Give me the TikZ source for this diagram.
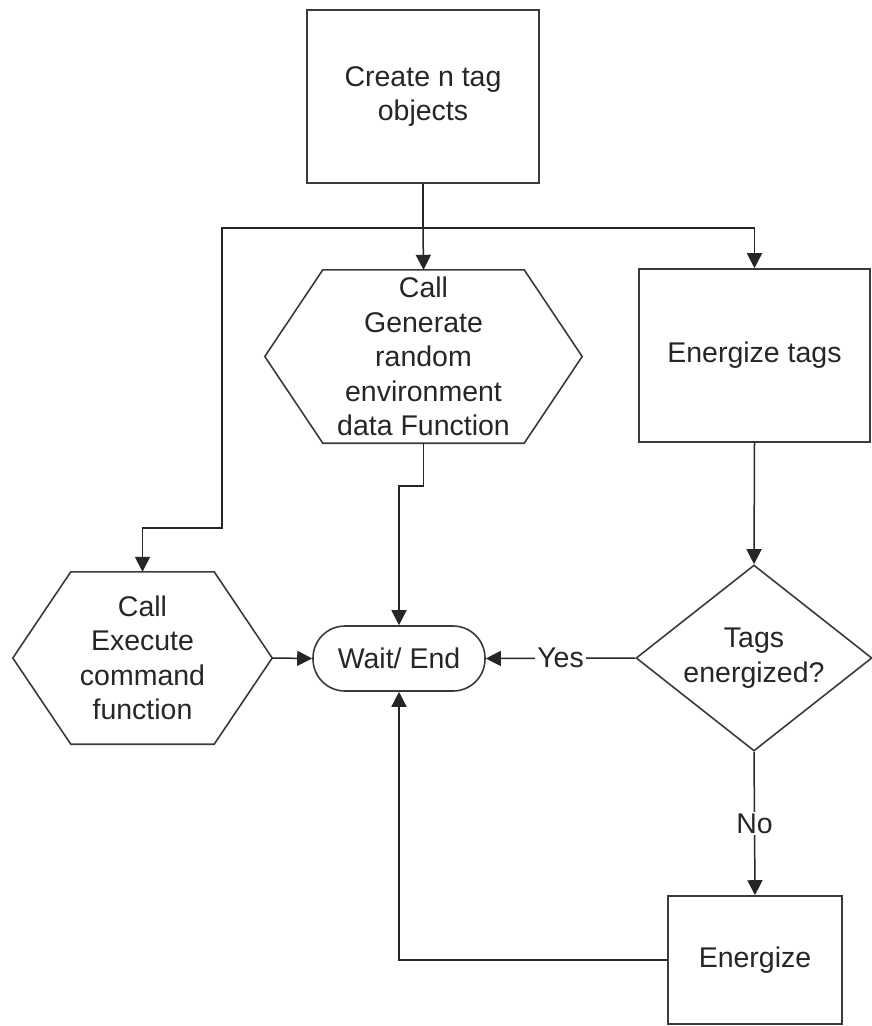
\documentclass[tikz,border=0pt]{standalone}
\usepackage{fontspec}
\setmainfont{Liberation Sans}
\usetikzlibrary{arrows.meta,calc,shapes.geometric}
\definecolor{inkline}{HTML}{3A3A3A}
\definecolor{inktext}{HTML}{262626}
\begin{document}
\begin{tikzpicture}[x=1pt,y=-1pt,
  font=\fontsize{28.5}{34.5}\selectfont,
  every node/.style={text=inktext, align=center},
  procbox/.style={draw=inkline, line width=1.6pt, minimum width=#1, inner sep=0pt},
  hexbox/.style={inner sep=0pt, minimum width=#1},
  flow/.style={draw=black!85, line width=1.5pt},
  arr/.style={flow, -{Triangle[length=15pt,width=15pt]}},
  lbl/.style={fill=white, inner sep=2pt}
]
\useasboundingbox (0,0) rectangle (871,1026);

% process boxes
\node[procbox=232pt, minimum height=173pt] (create) at (423,96.5) {Create n tag\\objects};
\node[procbox=231pt, minimum height=173pt] (etags) at (754.5,355.5) {Energize tags};
\node[procbox=174pt, minimum height=128pt] (en) at (755,960) {Energize};

% hexagonal call boxes (outline drawn from the node's anchors)
\node[hexbox=317pt, minimum height=173pt] (gen) at (423.5,356.5)
  {Call\\Generate\\random\\environment\\data Function};
\node[hexbox=259pt, minimum height=172pt] (exe) at (142.5,658)
  {Call\\Execute\\command\\function};
\foreach \h in {gen,exe}
  \draw[inkline, line width=1.6pt, line join=miter]
    ($(\h.north west)+(58,0)$) -- ($(\h.north east)+(-58,0)$) -- (\h.east)
    -- ($(\h.south east)+(-58,0)$) -- ($(\h.south west)+(58,0)$) -- (\h.west) -- cycle;

% terminator
\node[draw=inkline, line width=1.6pt, rounded corners=32pt,
      minimum width=172pt, minimum height=65pt, inner sep=0pt] (wait) at (399,658.5) {Wait/ End};

% decision
\node[draw=inkline, line width=1.6pt, shape=diamond, aspect=1.27, inner sep=0pt,
      minimum width=236pt, minimum height=186pt] (dia) at (754,658) {Tags\\energized?};

% branching from the creation step
\coordinate (br) at (423,228);
\coordinate (lbr) at (222,228);
\coordinate (lknee) at (222,528);
\coordinate (rbr) at (754.5,228);
\draw[flow] (create.south) -- (br);
\draw[arr] (br) -- (gen.north);
\draw[arr] (br) -- (lbr) -- (lknee) -- (lknee -| exe.north) -- (exe.north);
\draw[arr] (br) -- (rbr) -- (etags.north);

% into the terminator
\coordinate (gknee) at (423.5,486);
\draw[arr] (gen.south) -- (gknee) -- (gknee -| wait.north) -- (wait.north);
\draw[arr] (exe.east) -- (wait.west);
\draw[arr] (etags.south) -- (dia.north);
\draw[arr] (dia.west) -- node[lbl]{Yes} (wait.east);
\draw[arr] (dia.south) -- node[lbl]{No} (en.north);
\coordinate (eknee) at (399,960);
\draw[arr] (en.west) -- (eknee) -- (wait.south);
\end{tikzpicture}
\end{document}
